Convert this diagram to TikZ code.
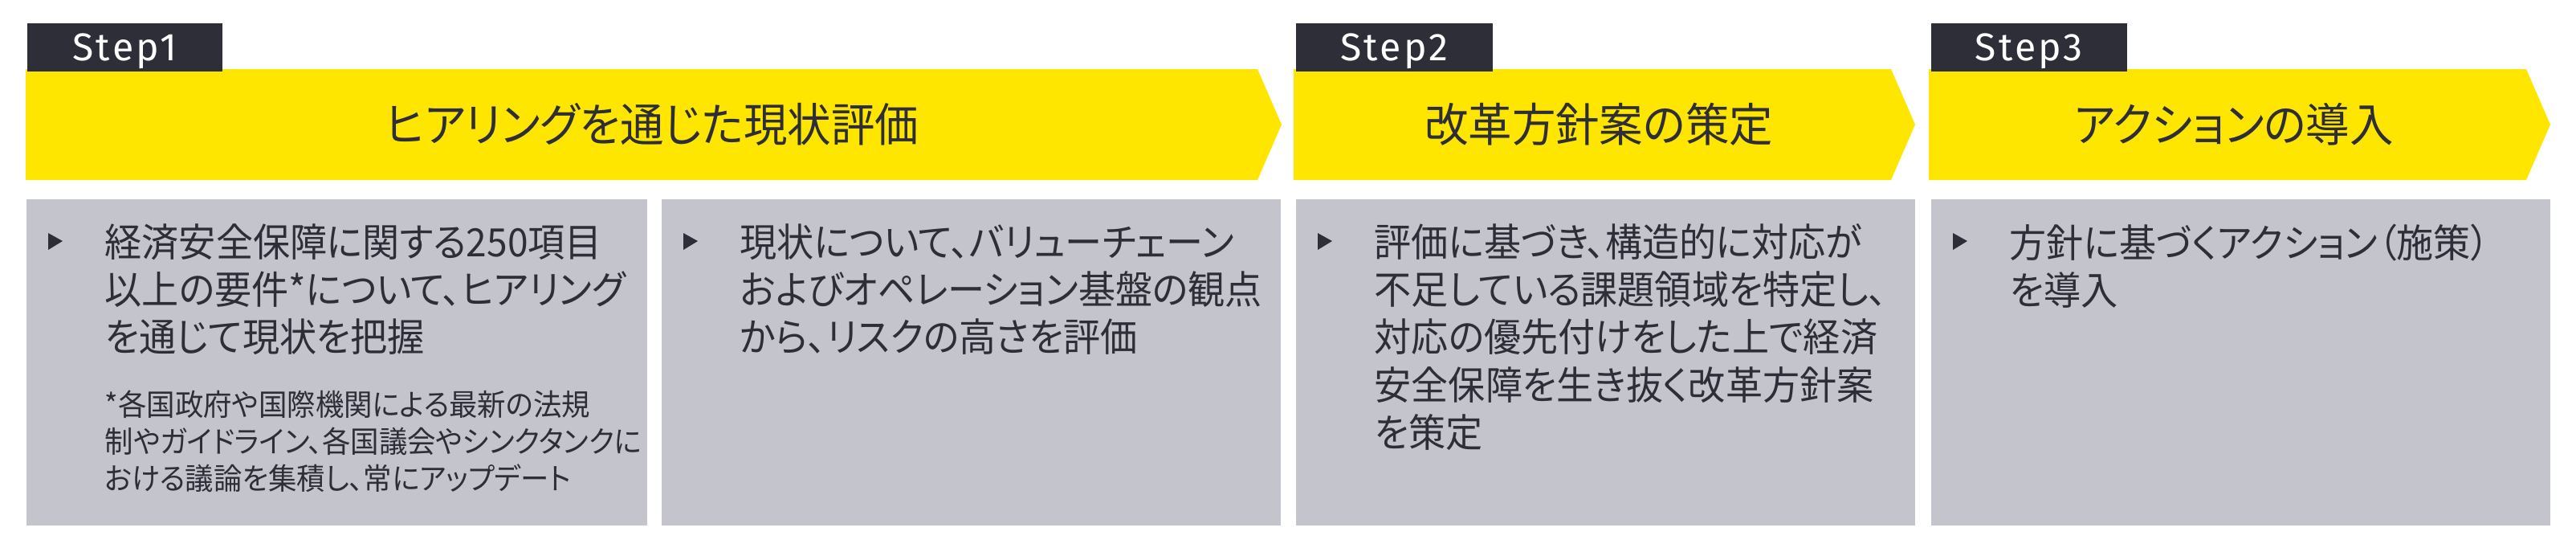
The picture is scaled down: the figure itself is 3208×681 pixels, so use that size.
\documentclass[tikz,border=0pt]{standalone}
\usepackage{fontspec}
\setmainfont{Noto Sans CJK JP}[RawFeature=+palt, FakeStretch=0.95]
\newfontfamily\steplabelfont{Fira Sans}[LetterSpace=7]
\usetikzlibrary{positioning}

\definecolor{eyyellow}{HTML}{FFE600}
\definecolor{eydark}{HTML}{2E2E38}
\definecolor{eygrey}{HTML}{C4C4CD}

\begin{document}
\begin{tikzpicture}[x=0.01cm, y=-0.01cm,
	steptab/.style={fill=eydark, text=white, anchor=north west, inner sep=0pt,
		minimum width=2.44cm, minimum height=0.6cm, text depth=0pt,
		font=\steplabelfont\fontsize{13.7}{16}\selectfont},
	heading/.style={text=eydark, inner sep=0pt, font=\fontsize{16.3}{19}\selectfont},
	detailbox/.style={fill=eygrey, anchor=north west, inner sep=0pt,
		minimum width=7.71cm, minimum height=4.06cm},
	bodytext/.style={text=eydark, anchor=north west, inner sep=0pt, align=left,
		font=\fontsize{13.8}{16.8}\selectfont},
	notetext/.style={text=eydark, anchor=north west, inner sep=0pt, align=left,
		font=\fontsize{10.6}{13.1}\selectfont}]
	\useasboundingbox (0,0) rectangle (3208,681);

	% yellow step arrows
	\fill[eyyellow] (32,86) -- (1566,86) -- (1596,155) -- (1566,224) -- (32,224) -- cycle;
	\fill[eyyellow] (1611,86) -- (2355,86) -- (2385,155) -- (2355,224) -- (1611,224) -- cycle;
	\fill[eyyellow] (2402,86) -- (3146,86) -- (3176,155) -- (3146,224) -- (2402,224) -- cycle;

	\node[heading] (h1) at (812,155) {ヒアリングを通じた現状評価};
	\node[heading] (h2) at (1991,155) {改革方針案の策定};
	\node[heading] (h3) at (2782,155) {アクションの導入};

	% step tabs
	\node[steptab, minimum width=2.43cm] (s1) at (33,28) {Step1};
	\node[steptab, minimum width=2.45cm] (s2) at (1613,28) {Step2};
	\node[steptab] (s3) at (2404,28) {Step3};

	% grey detail boxes
	\node[detailbox, minimum width=7.73cm] (box1) at (32,247) {};
	\node[detailbox] (box2) at (823,247) {};
	\node[detailbox] (box3) at (1613,247) {};
	\node[detailbox] (box4) at (2404,247) {};

	\foreach \b in {box1,box2,box3,box4}
		\fill[eydark] ([shift={(28,43)}]\b.north west) -- ++(18,10) -- ++(-18,11) -- cycle;

	\node[bodytext] (t1) at ([shift={(98,31)}]box1.north west)
		{経済安全保障に関する250項目\\以上の要件*について、ヒアリング\\を通じて現状を把握};
	\node[notetext] (n1) at ([shift={(98,238)}]box1.north west)
		{*各国政府や国際機関による最新の法規\\制やガイドライン、各国議会やシンクタンクに\\おける議論を集積し、常にアップデート};
	\node[bodytext] (t2) at ([shift={(98,31)}]box2.north west)
		{現状について、バリューチェーン\\およびオペレーション基盤の観点\\から、リスクの高さを評価};
	\node[bodytext] (t3) at ([shift={(98,31)}]box3.north west)
		{評価に基づき、構造的に対応が\\不足している課題領域を特定し、\\対応の優先付けをした上で経済\\安全保障を生き抜く改革方針案\\を策定};
	\node[bodytext] (t4) at ([shift={(98,31)}]box4.north west)
		{方針に基づくアクション（施策）\\を導入};
\end{tikzpicture}
\end{document}
